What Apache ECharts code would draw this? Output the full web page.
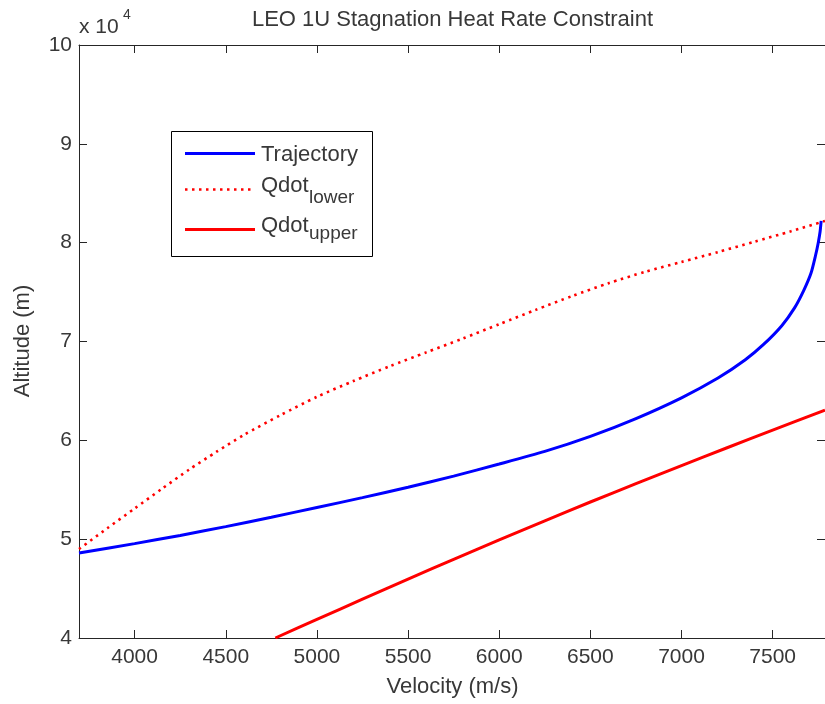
<!DOCTYPE html>
<html><head><meta charset="utf-8">
<script src="https://cdn.jsdelivr.net/npm/echarts@6/dist/echarts.min.js"></script>
<style>html,body{margin:0;padding:0;background:#fff}#c{width:825px;height:704px}</style>
</head><body><div id="c"></div><script>
const xTicks = [4000, 4500, 5000, 5500, 6000, 6500, 7000, 7500];
const yTicks = [40000, 50000, 60000, 70000, 80000, 90000, 100000];

const trajVel = [3695, 4000, 4250, 4500, 4750, 5000, 5250, 5500, 5750, 6000, 6250, 6500, 6750, 7000, 7200, 7350, 7450, 7550, 7620, 7670, 7710, 7735, 7750, 7760, 7766];
const trajAlt = [48600, 49550, 50380, 51270, 52220, 53200, 54200, 55250, 56380, 57600, 58880, 60400, 62200, 64300, 66300, 68150, 69700, 71600, 73400, 75150, 76900, 78700, 80000, 81100, 82200];

const lowerVel = [3695, 3850, 4000, 4150, 4300, 4450, 4600, 4800, 5000, 5200, 5400, 5600, 5800, 6000, 6200, 6400, 6600, 6800, 7000, 7200, 7400, 7600, 7787];
const lowerAlt = [49000, 51100, 53100, 55100, 57050, 58850, 60550, 62550, 64400, 66000, 67500, 68900, 70300, 71750, 73200, 74600, 75900, 77050, 78050, 79050, 80100, 81150, 82200];

const upperVel = [4772, 5000, 5250, 5500, 5750, 6000, 6250, 6500, 6750, 7000, 7250, 7500, 7787];
const upperAlt = [40000, 41880, 43930, 45960, 47960, 49930, 51860, 53760, 55620, 57450, 59250, 61030, 63050];

const FONT = '"Liberation Sans", Arial, Helvetica, sans-serif';
const TXT = '#383838';
const AX = '#262626';

const pairs = (xs, ys) => xs.map((x, i) => [x, ys[i]]);

const chart = echarts.init(document.getElementById('c'), null, {renderer: 'canvas'});

const xCommon = {
  type: 'value', min: 3695, max: 7787,
  splitLine: {show: false},
  axisLine: {show: true, onZero: false, lineStyle: {color: AX, width: 1}},
  axisTick: {show: true, inside: true, length: 8, customValues: xTicks, lineStyle: {color: AX, width: 1}}
};
const yCommon = {
  type: 'value', min: 40000, max: 100000, interval: 10000,
  splitLine: {show: false},
  axisLine: {show: true, onZero: false, lineStyle: {color: AX, width: 1}},
  axisTick: {show: true, inside: true, length: 8, lineStyle: {color: AX, width: 1}}
};

const lineCommon = {type: 'line', smooth: 0.25, showSymbol: false};

chart.setOption({
  animation: false,
  backgroundColor: '#fff',
  grid: {left: 79, right: -5, top: 45, bottom: 66, containLabel: false},
  xAxis: [
    Object.assign({}, xCommon, {position: 'bottom',
      axisLabel: {show: true, customValues: xTicks, margin: 9, fontSize: 21, fontFamily: FONT, color: TXT, formatter: v => String(v)}}),
    Object.assign({}, xCommon, {position: 'top', axisLabel: {show: false}})
  ],
  yAxis: [
    Object.assign({}, yCommon, {position: 'left',
      axisLabel: {show: true, margin: 7, fontSize: 21, fontFamily: FONT, color: TXT, formatter: v => String(v / 10000)}}),
    Object.assign({}, yCommon, {position: 'right', axisLabel: {show: false}})
  ],
  series: [
    Object.assign({}, lineCommon, {name: 'Trajectory', data: pairs(trajVel, trajAlt),
      lineStyle: {color: '#0000ff', width: 3}, z: 3}),
    Object.assign({}, lineCommon, {name: 'Qdot_lower', data: pairs(lowerVel, lowerAlt),
      lineStyle: {color: '#ff0000', width: 2.6, type: [2.5, 4.5]}, z: 2}),
    Object.assign({}, lineCommon, {name: 'Qdot_upper', data: pairs(upperVel, upperAlt),
      lineStyle: {color: '#ff0000', width: 3}, z: 2})
  ],
  graphic: [
    {type: 'text', x: 452.5, y: 19.5, style: {text: 'LEO 1U Stagnation Heat Rate Constraint', font: '22px ' + FONT, fill: TXT, align: 'center', verticalAlign: 'middle'}},
    {type: 'text', x: 452.5, y: 687, style: {text: 'Velocity (m/s)', font: '22px ' + FONT, fill: TXT, align: 'center', verticalAlign: 'middle'}},
    {type: 'text', x: 23, y: 341, rotation: Math.PI / 2, style: {text: 'Altitude (m)', font: '22px ' + FONT, fill: TXT, align: 'center', verticalAlign: 'middle'}},
    {type: 'text', x: 79, y: 27, style: {text: 'x 10', font: '21px ' + FONT, fill: TXT, align: 'left', verticalAlign: 'middle'}},
    {type: 'text', x: 123, y: 15, style: {text: '4', font: '14px ' + FONT, fill: TXT, align: 'left', verticalAlign: 'middle'}},
    {type: 'rect', z: 10, shape: {x: 171.5, y: 131.5, width: 201, height: 125}, style: {fill: '#fff', stroke: '#000', lineWidth: 1}},
    {type: 'line', z: 11, shape: {x1: 185, y1: 153.5, x2: 255, y2: 153.5}, style: {stroke: '#0000ff', lineWidth: 3}},
    {type: 'line', z: 11, shape: {x1: 185, y1: 189.5, x2: 255, y2: 189.5}, style: {stroke: '#ff0000', lineWidth: 2.6, lineDash: [2.5, 4.5]}},
    {type: 'line', z: 11, shape: {x1: 185, y1: 229.5, x2: 255, y2: 229.5}, style: {stroke: '#ff0000', lineWidth: 3}},
    {type: 'text', z: 11, x: 261, y: 154.5, style: {text: 'Trajectory', font: '22px ' + FONT, fill: TXT, align: 'left', verticalAlign: 'middle'}},
    {type: 'text', z: 11, x: 261, y: 186, style: {text: 'Qdot', font: '22px ' + FONT, fill: TXT, align: 'left', verticalAlign: 'middle'}},
    {type: 'text', z: 11, x: 309, y: 197.5, style: {text: 'lower', font: '19px ' + FONT, fill: TXT, align: 'left', verticalAlign: 'middle'}},
    {type: 'text', z: 11, x: 261, y: 226, style: {text: 'Qdot', font: '22px ' + FONT, fill: TXT, align: 'left', verticalAlign: 'middle'}},
    {type: 'text', z: 11, x: 309, y: 234, style: {text: 'upper', font: '19px ' + FONT, fill: TXT, align: 'left', verticalAlign: 'middle'}}
  ]
});
</script></body></html>
